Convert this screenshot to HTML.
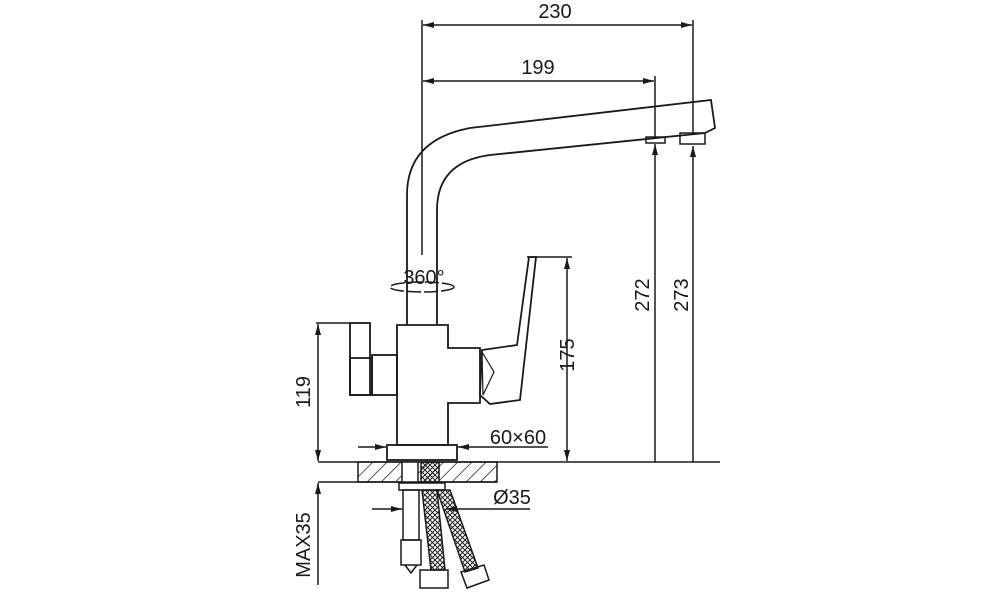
<!DOCTYPE html>
<html><head><style>
html,body{margin:0;padding:0;background:#fff;}
svg{display:block}
text{font-family:"Liberation Sans",sans-serif;fill:#1a1a1a;}
</style></head><body>
<svg width="1000" height="600" viewBox="0 0 1000 600" xmlns="http://www.w3.org/2000/svg">
<defs>
<marker id="a" markerWidth="11" markerHeight="6" refX="11" refY="3" orient="auto-start-reverse" markerUnits="userSpaceOnUse">
<path d="M0,0 L11,3 L0,6 z" fill="#1a1a1a"/></marker>
<pattern id="h" width="10" height="10" patternUnits="userSpaceOnUse" patternTransform="rotate(45)">
<line x1="0" y1="0" x2="0" y2="10" stroke="#222" stroke-width="1.5"/></pattern>
<pattern id="x" width="5" height="5" patternUnits="userSpaceOnUse">
<path d="M0,0 L5,5 M5,0 L0,5" stroke="#222" stroke-width="1"/></pattern>
</defs>
<g stroke="#1a1a1a" stroke-width="1.5" fill="none">
<line x1="422" y1="20" x2="422" y2="255"/>
<line x1="693" y1="20" x2="693" y2="133"/>
<line x1="655" y1="76" x2="655" y2="137"/>
<line x1="423" y1="25" x2="692" y2="25" marker-start="url(#a)" marker-end="url(#a)"/>
<line x1="423" y1="81" x2="654" y2="81" marker-start="url(#a)" marker-end="url(#a)"/>
<path d="M407,325 L407,195 Q407,140 470,128 L711,100 L715,128 L705,133 L490,155 Q437,162 437,210 L437,325" stroke-width="1.8"/>
<rect x="646" y="137" width="19" height="6"/>
<rect x="680" y="133" width="25" height="11"/>
<line x1="655" y1="462" x2="655" y2="144" marker-end="url(#a)"/>
<line x1="693" y1="462" x2="693" y2="146" marker-end="url(#a)"/>
<ellipse cx="422" cy="287" rx="32" ry="5" stroke-dasharray="14 3"/>
<path d="M397,325 L448,325 L448,348 L480,348 L480,403 L448,403 L448,445 L397,445 Z" stroke-width="1.8"/>
<path d="M529,257 L536,257 L520,400 L490,404 L480,395 L482,350 L517,345 Z" stroke-width="1.8"/>
<path d="M482,352 L483,395 L494,372 Z" stroke-width="1.2"/>
<rect x="350" y="323" width="20" height="72" stroke-width="1.8"/>
<rect x="350" y="358" width="22" height="37" stroke-width="1.8"/>
<rect x="372" y="355" width="25" height="40" stroke-width="1.8"/>
<rect x="387" y="445" width="70" height="15" stroke-width="1.8"/>
<line x1="318" y1="462" x2="720" y2="462"/>
<line x1="318" y1="482" x2="497" y2="482"/>
<rect x="358" y="462" width="139" height="20" fill="url(#h)"/>
<rect x="402" y="462" width="16" height="20" fill="#fff"/>
<rect x="421" y="462" width="18" height="20" fill="url(#x)"/>
<line x1="358" y1="447" x2="386" y2="447" marker-end="url(#a)"/>
<line x1="548" y1="447" x2="458" y2="447" marker-end="url(#a)"/>
<line x1="527" y1="257" x2="572" y2="257"/>
<line x1="567" y1="258" x2="567" y2="461" marker-start="url(#a)" marker-end="url(#a)"/>
<line x1="316" y1="323" x2="350" y2="323"/>
<line x1="318" y1="324" x2="318" y2="461" marker-start="url(#a)" marker-end="url(#a)"/>
<line x1="318" y1="483" x2="318" y2="585" marker-start="url(#a)"/>
<rect x="399" y="483" width="46" height="7"/>
<rect x="403" y="490" width="16" height="50"/>
<rect x="401" y="540" width="20" height="25"/>
<path d="M405,565 L411,573 L417,565"/>
<path d="M422,490 L437,490 L445,570 L431,570 Z" fill="url(#x)"/>
<path d="M437,490 L450,490 L478,568 L465,572 Z" fill="url(#x)"/>
<rect x="420" y="570" width="28" height="18"/>
<path d="M461,572 L484,565 L489,580 L467,588 Z"/>
<line x1="372" y1="509" x2="402" y2="509" marker-end="url(#a)"/>
<line x1="530" y1="509" x2="446" y2="509" marker-end="url(#a)"/>
</g>
<g font-size="20">
<text x="555" y="18" text-anchor="middle">230</text>
<text x="538" y="74" text-anchor="middle">199</text>
<text x="424" y="284" text-anchor="middle">360°</text>
<text x="518" y="444" text-anchor="middle">60×60</text>
<text x="512" y="504" text-anchor="middle">Ø35</text>
<text transform="translate(574,355) rotate(-90)" text-anchor="middle">175</text>
<text transform="translate(649,295) rotate(-90)" text-anchor="middle">272</text>
<text transform="translate(688,295) rotate(-90)" text-anchor="middle">273</text>
<text transform="translate(310,392) rotate(-90)" text-anchor="middle">119</text>
<text transform="translate(310,545) rotate(-90)" text-anchor="middle">MAX35</text>
</g>
</svg>
</body></html>
